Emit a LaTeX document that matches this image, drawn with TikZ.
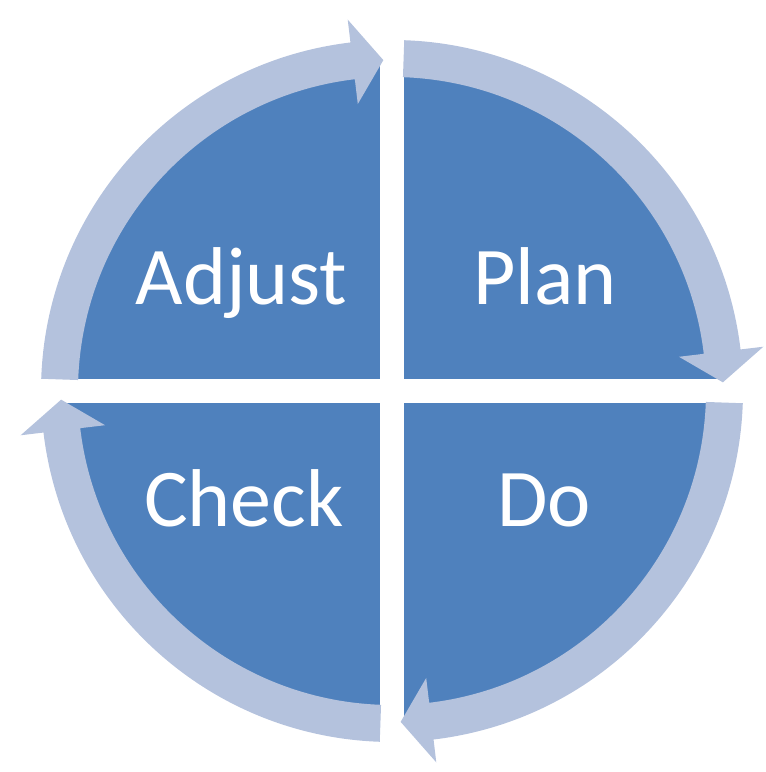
\documentclass[tikz,border=0pt]{standalone}
\usepackage{fontspec}
\setmainfont{Carlito}
\usetikzlibrary{positioning}
\definecolor{quadblue}{RGB}{79,129,189}
\definecolor{bandblue}{RGB}{180,194,221}

\begin{document}
\begin{tikzpicture}[x=1pt, y=1pt,
    quadlabel/.style={text=white, font=\fontsize{82}{90}\selectfont, anchor=base, inner sep=0pt},
    band/.style={fill=bandblue}]

    % Page area
    \useasboundingbox (0,0) rectangle (766,772);

    \begin{scope}[shift={(392,381)}]
    % Blue disc, cut in four quadrants
    \fill[quadblue] (0,0) circle (331);
    \fill[white] (-12,-345) rectangle (12,345);
    \fill[white] (-345,-12) rectangle (345,12);

    % Arrow round Plan
    \fill[band] (88:351) arc[start angle=88, end angle=6.8, radius=351] -- (6.8:374) -- (1.5:331) -- (6.8:289) -- (6.8:314) arc[start angle=6.8, end angle=88, radius=314] -- cycle;

    % Arrow round Do
    \fill[band] (-2:351) arc[start angle=-2, end angle=-83.2, radius=351] -- (-83.2:374) -- (-88.5:331) -- (-83.2:289) -- (-83.2:314) arc[start angle=-83.2, end angle=-2, radius=314] -- cycle;

    % Arrow round Check
    \fill[band] (-92:351) arc[start angle=-92, end angle=-173.2, radius=351] -- (-173.2:374) -- (-178.5:331) -- (-173.2:289) -- (-173.2:314) arc[start angle=-173.2, end angle=-92, radius=314] -- cycle;

    % Arrow round Adjust
    \fill[band] (178:351) arc[start angle=178, end angle=96.8, radius=351] -- (96.8:374) -- (91.5:331) -- (96.8:289) -- (96.8:314) arc[start angle=96.8, end angle=178, radius=314] -- cycle;
    \end{scope}

    % Labels
    \node[quadlabel] (plan) at (545,467) {Plan};
    \node[quadlabel] (adjust) at (241.5,467) {Adjust};
    \node[quadlabel] (check) at (244,245) {Check};
    \node[quadlabel] (do) at (544,245) {Do};

\end{tikzpicture}
\end{document}
